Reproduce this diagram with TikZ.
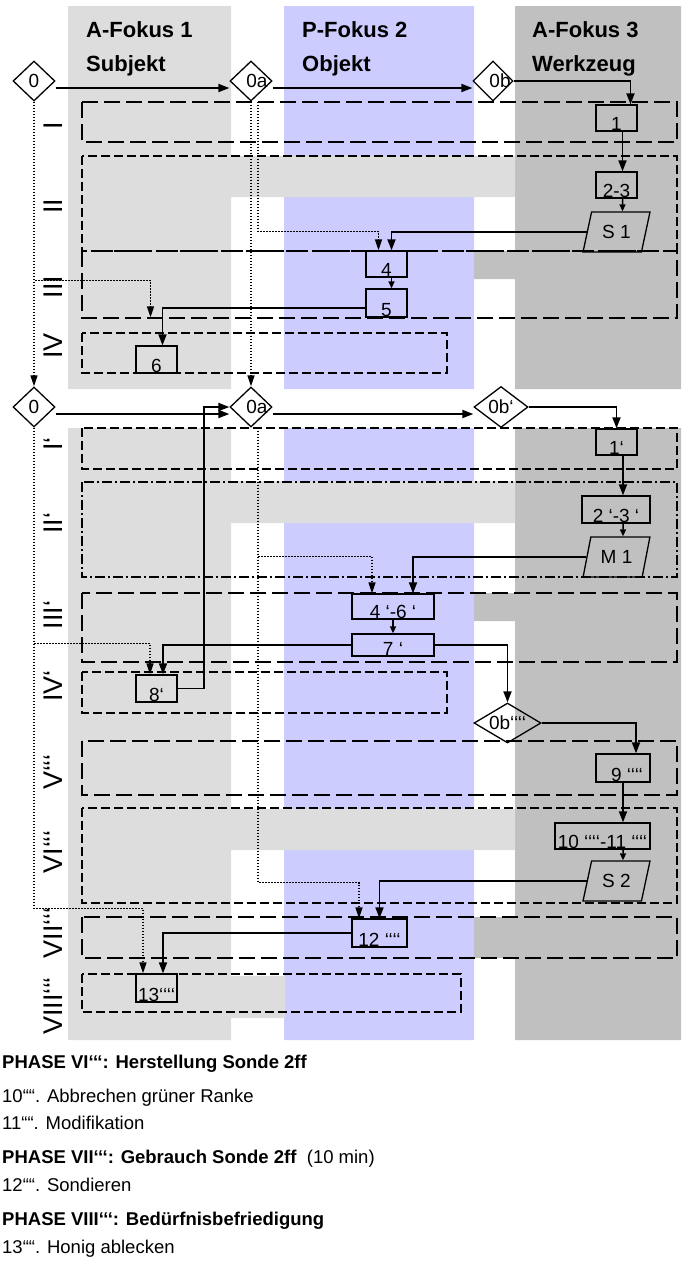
\documentclass[tikz,border=0pt]{standalone}
\usepackage{fontspec}
\setmainfont{Liberation Sans}
\usetikzlibrary{arrows.meta,shapes.geometric}
\definecolor{subjgray}{RGB}{221,221,221}
\definecolor{objblue}{RGB}{204,204,255}
\definecolor{toolgray}{RGB}{192,192,192}
\newcommand\fsz[1]{\fontsize{#1}{#1}\selectfont}
\tikzset{
  phaselong/.style={line width=1.3pt,dash pattern=on 16pt off 6pt},
  phasemid/.style={line width=1.3pt,dash pattern=on 9pt off 4pt},
  phasedash/.style={line width=1.3pt,dash pattern=on 10pt off 3pt on 2pt off 3pt},
  head/.style={font=\fsz{22}\bfseries,anchor=base west,inner sep=0pt},
  phaselbl/.style={font=\fsz{27},rotate=90,anchor=base,inner sep=0pt},
  stepbox/.style={draw,line width=1.3pt,inner xsep=1pt,inner ysep=1pt,minimum width=41pt,text height=24pt,text depth=0pt,font=\fsz{19}},
  decis/.style={diamond,draw,line width=1.3pt,inner sep=0pt,minimum width=42pt,minimum height=40pt,font=\fsz{19}},
  probe/.style={trapezium,trapezium left angle=70,trapezium right angle=110,trapezium stretches=true,draw,line width=1.3pt,inner sep=0pt,minimum width=67pt,minimum height=40pt,font=\fsz{19}},
  flow/.style={line width=1.8pt,-{Triangle[length=11pt,width=8pt]}},
  flowsm/.style={line width=1.5pt,-{Triangle[length=7pt,width=6pt]}},
  hint/.style={line width=1.5pt,dash pattern=on 1.5pt off 1.5pt,-{Triangle[length=11pt,width=7pt]}},
  legend/.style={font=\fsz{18.5},anchor=base west,inner sep=0pt}
}

\begin{document}
\begin{tikzpicture}[x=1pt,y=-1pt]
  \useasboundingbox (0,0) rectangle (681,1270);
  % Spalten
  \fill[subjgray] (68,6) rectangle (231,389) (68,428) rectangle (231,1040);
  \fill[objblue] (284,6) rectangle (474,389) (284,428) rectangle (474,1040);
  \fill[toolgray] (515,6) rectangle (681,389) (515,428) rectangle (681,1040);
  \fill[subjgray] (231,156) rectangle (515,197) (231,481) rectangle (515,523) (231,809) rectangle (515,850) (231,976) rectangle (285,1018);
  \fill[toolgray] (474,251) rectangle (515,279) (474,593) rectangle (515,621) (474,917) rectangle (515,958);
  \node[head] (hsubj) at (86,37) {A-Fokus 1}; \node[head] at (86,71) {Subjekt};
  \node[head] (hobj) at (302,37) {P-Fokus 2}; \node[head] at (302,71) {Objekt};
  \node[head] (htool) at (532,37) {A-Fokus 3}; \node[head] at (532,71) {Werkzeug};
  % Phasen
  \draw[phaselong] (82,102) rectangle (677,142);
  \draw[phasemid] (82,156) rectangle (677,251);
  \draw[phaselong] (82,251) rectangle (677,318);
  \draw[phasemid] (82,333) rectangle (447,373);
  \draw[phasemid] (82,428) rectangle (677,469);
  \draw[phasedash] (82,482) rectangle (677,577);
  \draw[phaselong] (82,593) rectangle (677,662);
  \draw[phasemid] (82,672) rectangle (447,713);
  \draw[phaselong] (82,741) rectangle (677,795);
  \draw[phasemid] (82,808) rectangle (677,903);
  \draw[phaselong] (82,917) rectangle (677,958);
  \draw[phasemid] (82,974) rectangle (461,1012);
  \node[phaselbl] (pI) at (62,126) {I};
  \node[phaselbl] (pII) at (62,206) {II};
  \node[phaselbl] (pIII) at (62,287) {III};
  \node[phaselbl] (pIV) at (62,346) {IV};
  \node[phaselbl] (pIp) at (62,444) {I‘};
  \node[phaselbl] (pIIp) at (62,523) {II‘};
  \node[phaselbl] (pIIIp) at (62,615) {III‘};
  \node[phaselbl] (pIVp) at (62,686) {IV‘};
  \node[phaselbl] (pV) at (62,772) {V‘‘‘};
  \node[phaselbl] (pVI) at (62,852) {VI‘‘‘};
  \node[phaselbl] (pVII) at (62,933) {VII‘‘‘};
  \node[phaselbl] (pVIII) at (62,1006) {VIII‘‘‘};
  % Knoten oben
  \node[decis] (d0) at (34,81) {\makebox[0pt]{0}};
  \node[decis] (d0a) at (251,81) {\makebox[0pt]{\hspace{12pt}0a}};
  \node[decis,minimum width=40pt] (d0b) at (493,81) {\makebox[0pt]{\hspace{14pt}0b}};
  \node[stepbox] (n1) at (616.5,118) {1};
  \node[stepbox] (n23) at (616.5,185) {2-3};
  \node[probe] (s1) at (616.5,232) {S 1};
  \node[stepbox] (n4) at (386.5,264) {4};
  \node[stepbox,text height=26pt] (n5) at (386.5,303) {5};
  \node[stepbox,text height=25pt] (n6) at (156.5,359.5) {6};
  % Knoten unten
  \node[decis] (d0low) at (34,407) {\makebox[0pt]{0}};
  \node[decis] (d0alow) at (251,407) {\makebox[0pt]{\hspace{12pt}0a}};
  \node[decis,minimum width=54pt,minimum height=41pt] (d0bp) at (501,407) {\makebox[0pt]{0b‘}};
  \node[stepbox] (n1p) at (616.5,442) {1‘};
  \node[stepbox,minimum width=68pt,text height=25pt] (n23p) at (616,509.5) {2 ‘-3 ‘};
  \node[probe] (m1) at (616.5,557) {M 1};
  \node[stepbox,minimum width=82pt,text height=23pt] (n46p) at (393,606.5) {4 ‘-6 ‘};
  \node[stepbox,minimum width=82pt,text height=20pt] (n7p) at (393,645) {7 ‘};
  \node[stepbox,text height=25pt] (n8p) at (156.5,688.5) {8‘};
  \node[decis,minimum width=67pt] (d0bpp) at (507.5,723) {\makebox[0pt]{0b‘‘‘‘}};
  \node[stepbox,minimum width=54pt,text height=26pt] (n9) at (623,768) {\hspace{8pt}9 ‘‘‘‘};
  \node[stepbox,minimum width=95pt] (n1011) at (602.5,836) {10 ‘‘‘‘-11 ‘‘‘‘};
  \node[probe] (s2) at (616.5,881) {S 2};
  \node[stepbox,minimum width=55pt,text height=26pt] (n12) at (379.5,933) {12 ‘‘‘‘};
  \node[stepbox,text height=26pt] (n13) at (156.5,988) {13‘‘‘‘};
  % Verbindungen oben
  \draw[flow] ([yshift=-7pt]d0.east) -- ([yshift=-7pt]d0a.west);
  \draw[flow] ([yshift=-7pt]d0a.east) -- ([yshift=-7pt]d0b.west);
  \draw[flow] (d0b.east) -| ([xshift=14pt]n1.north);
  \draw[flow] ([xshift=6pt]n1.south) -- ([xshift=6pt]n23.north);
  \draw[flowsm] ([xshift=6pt]n23.south) -- ([xshift=6pt]s1.north);
  \draw[flow] (s1.west) -| ([xshift=5pt]n4.north);
  \draw[hint] ([xshift=7pt]d0a.south) -- ++(0,130) -| ([xshift=-8pt]n4.north);
  \draw[flowsm] ([xshift=5pt]n4.south) -- ([xshift=5pt]n5.north);
  \draw[flow] ([yshift=-5pt]n5.west) -| ([xshift=6pt]n6.north);
  \draw[hint] (d0.south) -- ++(0,179) -| ([xshift=-6pt,yshift=28pt]n6.north);
  \draw[hint] (d0.south) -- (d0low.north);
  \draw[hint] (d0a.south) -- (d0alow.north);
  % Verbindungen unten
  \draw[flow] ([yshift=-7pt]d0low.east) -- ([yshift=-7pt]d0alow.west);
  \draw[flow] ([yshift=-7pt]d0alow.east) -- ([yshift=-7pt]d0bp.west);
  \draw[flow] (d0bp.east) -| (n1p.north);
  \draw[flow] ([xshift=6.5pt]n1p.south) -- ([xshift=7pt]n23p.north);
  \draw[flowsm] ([xshift=7pt]n23p.south) -- ([xshift=6.5pt]m1.north);
  \draw[flow] (m1.west) -| ([xshift=20pt]n46p.north);
  \draw[hint] ([xshift=7pt]d0alow.south) -- ++(0,129) -| ([xshift=-21pt]n46p.north);
  \draw[flowsm] (n46p.south) -- (n7p.north);
  \draw[flow] (n7p.west) -| ([xshift=6.5pt]n8p.north);
  \draw[hint] (d0low.south) -- ++(0,216) -| ([xshift=-6.5pt]n8p.north);
  \draw[flow] (n8p.east) -- ++(26,0) |- (d0alow.west);
  \draw[flow] (n7p.east) -| (d0bpp.north);
  \draw[flow] (d0bpp.east) -| ([xshift=13pt]n9.north);
  \draw[flow] (n9.south) -- ([xshift=20.5pt]n1011.north);
  \draw[flowsm] ([xshift=20.5pt]n1011.south) -- ([xshift=6.5pt]s2.north);
  \draw[flow] (s2.west) -| (n12.north);
  \draw[hint] ([xshift=7pt]d0alow.south) -- ++(0,455) -| ([xshift=-20.5pt]n12.north);
  \draw[flow] (n12.west) -| ([xshift=6.5pt]n13.north);
  \draw[hint] (d0low.south) -- ++(0,481) -| ([xshift=-13.5pt]n13.north);
  % Legende
  \node[legend] (l1) at (2,1068) {\bfseries PHASE VI‘‘‘: Herstellung Sonde 2ff};
  \node[legend] (l2) at (2,1102) {10““. Abbrechen grüner Ranke};
  \node[legend] (l3) at (2,1129) {11““. Modifikation};
  \node[legend] (l4) at (2,1163) {\textbf{PHASE VII‘‘‘: Gebrauch Sonde 2ff}\ \ (10 min)};
  \node[legend] (l5) at (2,1191) {12““. Sondieren};
  \node[legend] (l6) at (2,1225) {\bfseries PHASE VIII‘‘‘: Bedürfnisbefriedigung};
  \node[legend] (l7) at (2,1253) {13““. Honig ablecken};
\end{tikzpicture}
\end{document}
